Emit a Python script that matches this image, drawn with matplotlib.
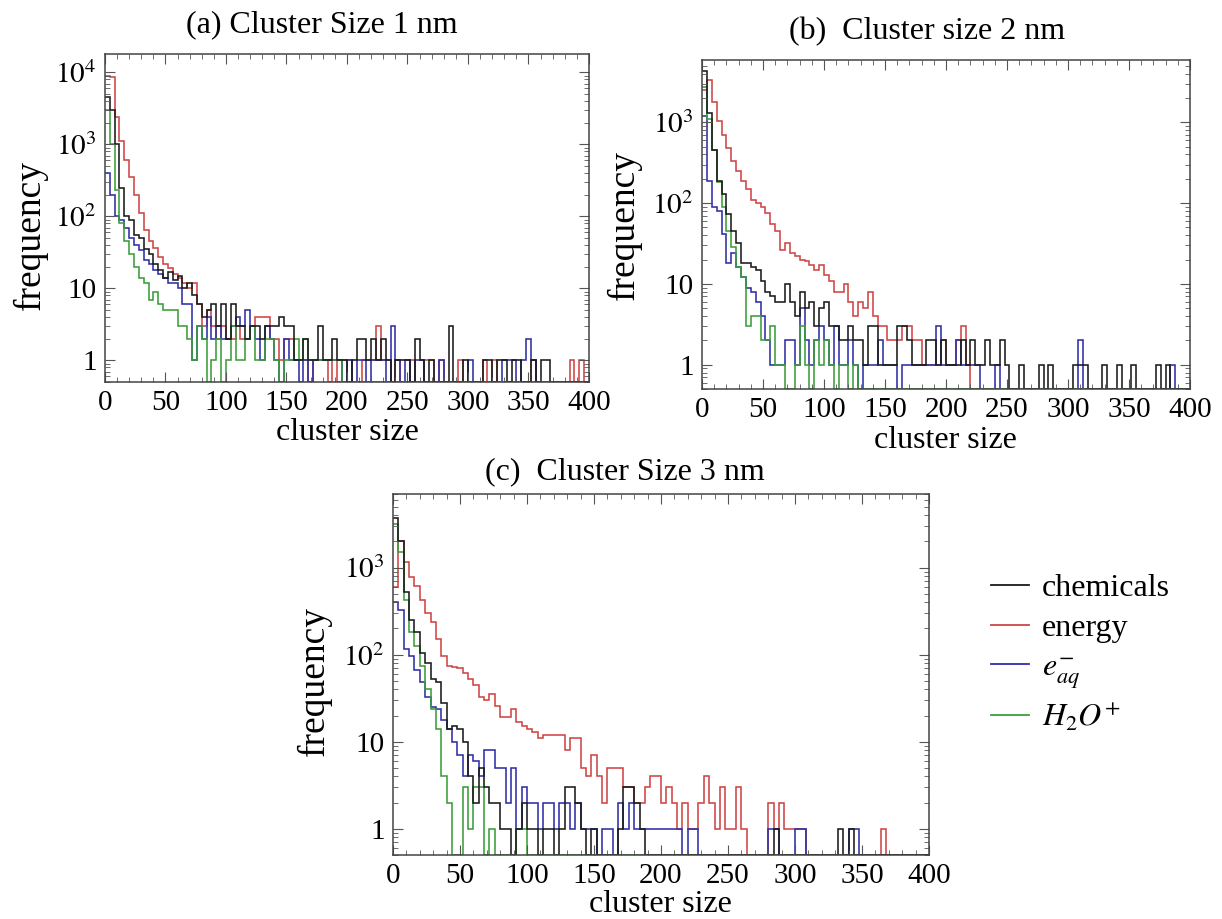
import numpy as np
import matplotlib
matplotlib.use("Agg")
import matplotlib.pyplot as plt
from matplotlib.ticker import FuncFormatter, MultipleLocator, LogLocator, NullFormatter

plt.rcParams['font.family'] = ['Liberation Serif', 'DejaVu Serif']
plt.rcParams['mathtext.fontset'] = 'stix'

# histogram bins: width 4 in cluster size, 0..400
bin_edges = np.arange(0, 404, 4)

# (a) cluster size 1 nm
red_a = [9000, 8500, 2400, 1100, 600, 350, 200, 110, 65, 45, 36, 27, 22, 19, 16, 14, 12, 10, 12, 6,
         3, 5, 3, 2, 3, 2, 2, 3, 2, 2, 3, 4, 4, 4, 2, 2, 1, 2, 2, 1,
         1, 1, 0, 1, 1, 1, 0, 1, 0, 1, 1, 0, 0, 1, 1, 1, 3, 1, 1, 0,
         1, 0, 0, 1, 0, 0, 1, 1, 0, 1, 0, 0, 0, 1, 0, 0, 0, 0, 1, 0,
         1, 0, 0, 0, 0, 0, 0, 0, 1, 0, 0, 0, 0, 0, 0, 0, 1, 0, 1, 0]
black_a = [4500, 3000, 1000, 250, 100, 90, 55, 50, 35, 30, 22, 18, 14, 17, 13, 15, 10, 12, 8, 6,
           4, 5, 6, 3, 6, 2, 6, 3, 3, 2, 3, 3, 2, 3, 3, 3, 4, 3, 3, 1,
           1, 2, 1, 1, 3, 1, 1, 2, 1, 1, 0, 1, 2, 2, 1, 2, 1, 2, 1, 0,
           1, 1, 1, 0, 2, 1, 0, 1, 0, 0, 0, 3, 0, 0, 1, 0, 0, 0, 1, 1,
           0, 1, 1, 0, 1, 1, 0, 0, 1, 0, 1, 1, 0, 0, 0, 0, 0, 0, 0, 0]
blue_a = [400, 200, 100, 90, 70, 50, 40, 34, 25, 22, 18, 16, 14, 12, 12, 10, 6, 6, 1, 3,
          2, 4, 2, 3, 2, 2, 3, 4, 3, 5, 3, 2, 1, 3, 2, 1, 0, 2, 1, 1,
          0, 1, 0, 1, 1, 1, 1, 1, 1, 0, 1, 0, 1, 1, 0, 1, 1, 1, 0, 3,
          1, 0, 1, 0, 1, 1, 0, 0, 0, 1, 0, 0, 0, 0, 0, 1, 0, 0, 0, 0,
          0, 0, 1, 1, 1, 0, 1, 2, 1, 0, 0, 0, 0, 0, 0, 0, 0, 0, 0, 0]
green_a = [3000, 1000, 230, 80, 45, 30, 20, 14, 12, 7, 9, 6, 5, 5, 5, 3, 3, 2, 1, 3,
           2, 0, 1, 2, 0, 1, 3, 1, 1, 2, 3, 1, 1, 2, 2, 1, 0, 1, 1, 2,
           1, 2, 1, 1, 1, 1, 1, 1, 1, 0, 0, 0, 0, 0, 0, 0, 0, 0, 0, 0,
           0, 0, 0, 0, 0, 0, 0, 0, 0, 0, 0, 0, 0, 0, 0, 0, 0, 0, 0, 0,
           0, 0, 0, 0, 0, 0, 0, 0, 0, 0, 0, 0, 0, 0, 0, 0, 0, 0, 0, 0]

# (b) cluster size 2 nm
red_b = [2500, 3300, 1800, 1050, 700, 480, 330, 250, 190, 150, 110, 100, 90, 75, 55, 45, 26, 32, 24, 22,
         20, 19, 17, 15, 17, 13, 11, 8, 8, 10, 6, 4, 6, 5, 8, 4, 3, 3, 2, 2,
         2, 3, 3, 2, 2, 1, 1, 1, 1, 2, 1, 1, 2, 3, 1, 0, 0, 0, 0, 0,
         0, 0, 0, 0, 0, 0, 0, 0, 0, 0, 0, 0, 0, 0, 0, 0, 0, 0, 0, 0,
         0, 0, 0, 0, 0, 0, 0, 0, 0, 0, 0, 0, 0, 0, 0, 0, 0, 0, 0, 0]
black_b = [4300, 1300, 450, 190, 130, 74, 45, 32, 18, 18, 16, 15, 11, 8, 7, 6, 6, 10, 6, 4,
           8, 5, 6, 3, 5, 6, 3, 3, 2, 2, 3, 2, 2, 1, 3, 3, 1, 1, 1, 1,
           3, 3, 2, 1, 1, 1, 2, 2, 1, 2, 1, 1, 1, 2, 1, 2, 1, 1, 2, 1,
           1, 2, 1, 0, 0, 1, 0, 0, 0, 1, 0, 1, 0, 0, 0, 0, 1, 1, 1, 0,
           0, 0, 1, 0, 0, 1, 0, 0, 1, 0, 0, 0, 0, 1, 0, 1, 0, 0, 0, 0]
blue_b = [1200, 190, 90, 80, 42, 18, 24, 16, 12, 9, 8, 6, 4, 2, 1, 1, 1, 2, 2, 1,
          5, 2, 1, 2, 3, 2, 1, 3, 1, 1, 2, 1, 0, 1, 1, 1, 2, 1, 1, 1,
          0, 1, 1, 1, 1, 1, 1, 1, 3, 1, 1, 1, 2, 1, 1, 1, 1, 0, 0, 0,
          1, 0, 0, 0, 0, 0, 0, 0, 0, 0, 0, 0, 0, 0, 0, 0, 0, 2, 0, 0,
          0, 0, 0, 0, 0, 0, 0, 0, 0, 0, 0, 0, 0, 0, 0, 0, 1, 0, 0, 0]
green_b = [2700, 1100, 450, 180, 90, 45, 29, 16, 12, 3, 4, 4, 2, 2, 3, 1, 1, 0, 0, 1,
           3, 1, 0, 2, 1, 2, 1, 0, 1, 1, 0, 1, 0, 0, 0, 0, 0, 0, 0, 0,
           0, 0, 0, 0, 0, 0, 0, 0, 0, 0, 0, 0, 0, 0, 0, 0, 0, 0, 0, 0,
           0, 0, 0, 0, 0, 0, 0, 0, 0, 0, 0, 0, 0, 0, 0, 0, 0, 0, 0, 0,
           0, 0, 0, 0, 0, 0, 0, 0, 0, 0, 0, 0, 0, 0, 0, 0, 0, 0, 0, 0]

# (c) cluster size 3 nm
red_c = [600, 2000, 1150, 790, 610, 430, 300, 235, 150, 96, 75, 72, 70, 62, 52, 45, 33, 30, 35, 26,
         19, 19, 24, 17, 15, 14, 13, 11, 12, 12, 12, 12, 8, 11, 11, 5, 4, 7, 4, 2,
         5, 5, 5, 3, 3, 2, 2, 3, 4, 4, 2, 3, 2, 1, 2, 1, 1, 2, 4, 2,
         1, 3, 1, 1, 3, 1, 0, 0, 0, 0, 2, 1, 2, 1, 1, 1, 1, 0, 0, 0,
         0, 0, 0, 0, 0, 0, 0, 0, 0, 0, 0, 1, 0, 0, 0, 0, 0, 0, 0, 0]
black_c = [3700, 2000, 520, 250, 180, 105, 81, 52, 48, 28, 14, 15, 14, 10, 4, 2, 5, 3, 2, 2,
           1, 1, 0, 1, 2, 1, 1, 0, 1, 1, 0, 1, 3, 3, 2, 1, 0, 1, 0, 0,
           0, 0, 1, 3, 3, 2, 1, 0, 0, 0, 0, 0, 0, 0, 0, 0, 0, 0, 0, 0,
           0, 0, 0, 0, 0, 0, 0, 0, 0, 0, 0, 1, 0, 0, 0, 0, 0, 0, 0, 0,
           0, 0, 0, 1, 0, 1, 0, 0, 0, 0, 0, 0, 0, 0, 0, 0, 0, 0, 0, 0]
blue_c = [400, 330, 115, 96, 67, 48, 33, 25, 24, 18, 14, 10, 7, 4, 7, 6, 4, 8, 8, 5,
          5, 2, 5, 1, 3, 2, 2, 1, 2, 2, 1, 2, 2, 1, 2, 1, 1, 1, 0, 1,
          1, 0, 2, 1, 2, 1, 1, 1, 1, 1, 1, 1, 1, 1, 0, 1, 1, 0, 0, 0,
          0, 0, 0, 0, 0, 0, 0, 0, 0, 0, 1, 1, 0, 0, 0, 1, 1, 0, 0, 0,
          0, 0, 0, 0, 0, 1, 1, 0, 0, 0, 0, 0, 0, 0, 0, 0, 0, 0, 0, 0]
green_c = [3200, 1500, 430, 180, 125, 74, 40, 24, 14, 4, 2, 0, 0, 3, 1, 3, 3, 0, 1, 0,
           0, 0, 0, 1, 1, 0, 0, 0, 0, 0, 0, 0, 0, 0, 0, 0, 0, 0, 0, 0,
           0, 0, 0, 0, 0, 0, 0, 0, 0, 0, 0, 0, 0, 0, 0, 0, 0, 0, 0, 0,
           0, 0, 0, 0, 0, 0, 0, 0, 0, 0, 0, 0, 0, 0, 0, 0, 0, 0, 0, 0,
           0, 0, 0, 0, 0, 0, 0, 0, 0, 0, 0, 0, 0, 0, 0, 0, 0, 0, 0, 0]

series_labels = ['chemicals', 'energy', r'$e_{aq}^{-}$', r'$H_2O^{+}$']
colors = {'black': '#1a1a1a', 'red': '#d04545', 'blue': '#2e2ea8', 'green': '#3a9e3a'}

YMIN = 0.5


def log_label(v, pos):
    e = int(round(np.log10(v)))
    if e == 0:
        return '1'
    if e == 1:
        return '10'
    return r'$10^{%d}$' % e


def draw_panel(ax, red, black, blue, green, ytop):
    # zero bins are drawn on the bottom edge of the axes
    for vals, c in [(red, 'red'), (blue, 'blue'), (green, 'green'), (black, 'black')]:
        v = np.asarray(vals, dtype=float)
        v = np.where(v > 0, v, YMIN)
        ax.stairs(v, bin_edges, baseline=None, color=colors[c], lw=1.15)
    ax.set_yscale('log')
    ax.set_xlim(0, 400)
    ax.set_ylim(YMIN, ytop)
    ax.xaxis.set_major_locator(MultipleLocator(50))
    ax.xaxis.set_minor_locator(MultipleLocator(10))
    ax.yaxis.set_major_locator(LogLocator(base=10))
    ax.yaxis.set_minor_locator(LogLocator(base=10, subs=np.arange(2, 10)))
    ax.yaxis.set_major_formatter(FuncFormatter(log_label))
    ax.yaxis.set_minor_formatter(NullFormatter())
    ax.tick_params(which='both', direction='in', top=True, right=True, color='#555555')
    ax.tick_params(which='major', length=7, labelsize=21, pad=6)
    ax.tick_params(which='minor', length=3.5)
    for s in ax.spines.values():
        s.set_color('#444444')
        s.set_linewidth(1.1)


fig = plt.figure(figsize=(12.22, 9.19), dpi=100)

ax_a = fig.add_axes([0.0859, 0.5843, 0.3961, 0.3569])
ax_b = fig.add_axes([0.5745, 0.5767, 0.3993, 0.3580])
ax_c = fig.add_axes([0.3216, 0.0696, 0.4386, 0.3928])

draw_panel(ax_a, red_a, black_a, blue_a, green_a, 1.8e4)
draw_panel(ax_b, red_b, black_b, blue_b, green_b, 5.9e3)
draw_panel(ax_c, red_c, black_c, blue_c, green_c, 7.0e3)

# titles and axis labels
fig.text(322 / 1222, 1 - 25 / 919, '(a) Cluster Size 1 nm', fontsize=23, ha='center', va='center')
fig.text(927 / 1222, 1 - 32 / 919, '(b)  Cluster size 2 nm', fontsize=23, ha='center', va='center')
fig.text(625 / 1222, 1 - 472 / 919, '(c)  Cluster Size 3 nm', fontsize=23, ha='center', va='center')

fig.text(30 / 1222, 1 - 235 / 919, 'frequency', fontsize=27, rotation=90, ha='center', va='center')
fig.text(624 / 1222, 1 - 225 / 919, 'frequency', fontsize=27, rotation=90, ha='center', va='center')
fig.text(314 / 1222, 1 - 681 / 919, 'frequency', fontsize=27, rotation=90, ha='center', va='center')

fig.text(347 / 1222, 1 - 433 / 919, 'cluster size', fontsize=23, ha='center', va='center')
fig.text(945 / 1222, 1 - 440 / 919, 'cluster size', fontsize=23, ha='center', va='center')
fig.text(660 / 1222, 1 - 905 / 919, 'cluster size', fontsize=23, ha='center', va='center')

handles = [plt.Line2D([], [], color=colors[c], lw=1.3) for c in ['black', 'red', 'blue', 'green']]
fig.legend(handles, series_labels, loc='upper left', bbox_to_anchor=(962 / 1222, 1 - 545 / 919),
           frameon=False, fontsize=23, handlelength=1.2, handletextpad=0.4, labelspacing=0.32)

fig.savefig('out.png', dpi=100)
